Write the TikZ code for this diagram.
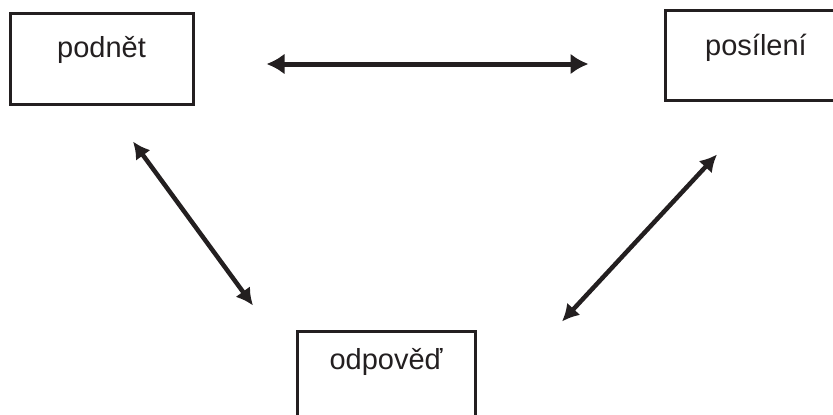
\documentclass[tikz,border=0pt]{standalone}
\usepackage{fontspec}
\setmainfont{Liberation Sans}
\usetikzlibrary{arrows.meta}
\definecolor{ink}{HTML}{231F20}
\begin{document}
\begin{tikzpicture}[x=1pt,y=-1pt,
  box/.style={draw=ink,line width=3pt,inner sep=0pt,text=ink,font=\fontsize{29}{30}\selectfont},
  harr/.style={draw=ink,line width=5pt,{Latex[length=18pt,width=21pt]}-{Latex[length=18pt,width=21pt]}},
  darr/.style={draw=ink,line width=4.5pt,{Latex[length=17pt,width=18pt]}-{Latex[length=17pt,width=18pt]}}]
\useasboundingbox (0,0) rectangle (833,415);
\clip (0,0) rectangle (833,415);
\node[box,minimum width=183pt,text height=44pt,text depth=47pt] (pod) at (101.5,58.5) {podnět};
\node[box,minimum width=182pt,text height=45pt,text depth=45pt] (pos) at (756,55) {posílení};
\node[box,minimum width=178pt,text height=38pt,text depth=53pt] (odp) at (386,376.5) {odpověď};
\draw[harr] ([xshift=72pt,yshift=-5.5pt]pod.east) -- ([xshift=-75pt,yshift=-9pt]pos.west);
\draw[darr] ([xshift=31.5pt,yshift=-36pt]pod.south) -- ([xshift=-133pt,yshift=24pt]odp.north);
\draw[darr] ([xshift=-39pt,yshift=-53pt]pos.south) -- ([xshift=176pt,yshift=8pt]odp.north);
\end{tikzpicture}
\end{document}
